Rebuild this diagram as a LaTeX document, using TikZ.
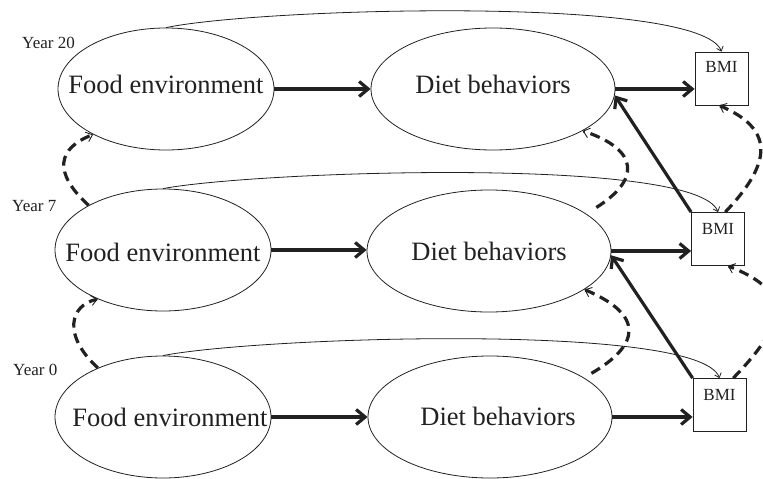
\documentclass[tikz,border=0pt]{standalone}
\usepackage{fontspec}
\setmainfont{Liberation Serif}
\usetikzlibrary{shapes.geometric,arrows.meta,calc}
\definecolor{ink}{gray}{0.13}

\begin{document}
\begin{tikzpicture}[x=1pt,y=-1pt,
  oval/.style={draw=ink, ellipse, line width=0.8pt, inner sep=0pt, minimum height=122pt},
  feoval/.style={oval, minimum width=216pt},
  dboval/.style={oval, minimum width=244pt},
  bmibox/.style={draw=ink, rectangle, line width=0.8pt, inner sep=0pt, minimum width=53pt, minimum height=53pt},
  big/.style={font=\fontsize{26.5}{30}\selectfont, text=ink, anchor=base, inner sep=0pt},
  small/.style={font=\fontsize{17}{20}\selectfont, text=ink, anchor=base, inner sep=0pt},
  causal/.style={draw=ink, line width=3.2pt, -{Straight Barb[length=9pt,width=15pt]}},
  lagged/.style={draw=ink, line width=3.2pt, dash pattern=on 10pt off 6pt,
                 -{Straight Barb[line width=0.9pt,length=6pt,width=10pt]}},
  carry/.style={draw=ink, line width=0.8pt, -{Straight Barb[line width=0.8pt,length=4pt,width=7pt]}},
]
\useasboundingbox (0,0) rectangle (763,479);
\clip (0,0) rectangle (763,479);

% ---- nodes: three waves, top to bottom ----
\node[feoval] (f20) at (166,89) {};
\node[dboval] (d20) at (493,89) {};
\node[bmibox] (b20) at (721.5,78.5) {};

\node[feoval] (f7) at (163,250) {};
\node[dboval] (d7) at (489,251) {};
\node[bmibox] (b7) at (718,239) {};

\node[feoval] (f0) at (163,417) {};
\node[dboval] (d0) at (490,417) {};
\node[bmibox] (b0) at (719.5,405) {};

% ---- labels ----
\node[big] (tf20) at ([shift={(0,4)}]f20.center) {Food environment};
\node[big] (td20) at ([shift={(0,4)}]d20.center) {Diet behaviors};
\node[big] (tf7) at ([shift={(0,11)}]f7.center) {Food environment};
\node[big] (td7) at ([shift={(0,9)}]d7.center) {Diet behaviors};
\node[big] (tf0) at ([shift={(7,9)}]f0.center) {Food environment};
\node[big] (td0) at ([shift={(8,8)}]d0.center) {Diet behaviors};

\node[small] (tb20) at ([shift={(0,21)}]b20.north) {BMI};
\node[small] (tb7) at ([shift={(0,22)}]b7.north) {BMI};
\node[small] (tb0) at ([shift={(0,22)}]b0.north) {BMI};

\node[small, anchor=base west] (y20) at (22,48) {Year 20};
\node[small, anchor=base west] (y7) at (12,211) {Year 7};
\node[small, anchor=base west] (y0) at (13,375) {Year 0};

% ---- within-wave paths ----
\draw[causal] (f20.east) -- (d20.west);
\draw[causal] (d20.east) -- (d20.east -| b20.west);
\draw[causal] (f7.east) -- (f7.east -| d7.west);
\draw[causal] (d7.east) -- (d7.east -| b7.west);
\draw[causal] (f0.east) -- (f0.east -| d0.west);
\draw[causal] (d0.east) -- (d0.east -| b0.west);

% ---- BMI feeding back into later diet ----
\draw[causal] (b7.north west) -- (d20.-3);
\draw[causal] (b0.north west) -- (d7.-2);

% ---- food environment straight to BMI ----
\draw[carry] (f20.north) .. controls (260,8) and (700,-5) .. (b20.north);
\draw[carry] (f7.north) .. controls (257,171) and (697,156) .. (b7.north);
\draw[carry] (f0.north) .. controls (257,337) and (699,322) .. (b0.north);

% ---- stability across waves ----
\draw[lagged] (f0.143) .. controls (62,335) and (70,305) .. (f7.217.6);
\draw[lagged] (f7.149) .. controls (52,172) and (58,148) .. (f20.212);
\draw[lagged] ([shift={(8,-4)}]d0.23) .. controls (640,345) and (645,315) .. (d7.-22);
\draw[lagged] ([shift={(12,-5)}]d7.22) .. controls (640,180) and (640,150) .. (d20.-25);
\draw[lagged] (b0.63) .. controls (790,320) and (790,290) .. (b7.-70);
\draw[lagged] (b7.75) .. controls (775,160) and (772,128) .. (b20.265);
\end{tikzpicture}
\end{document}
